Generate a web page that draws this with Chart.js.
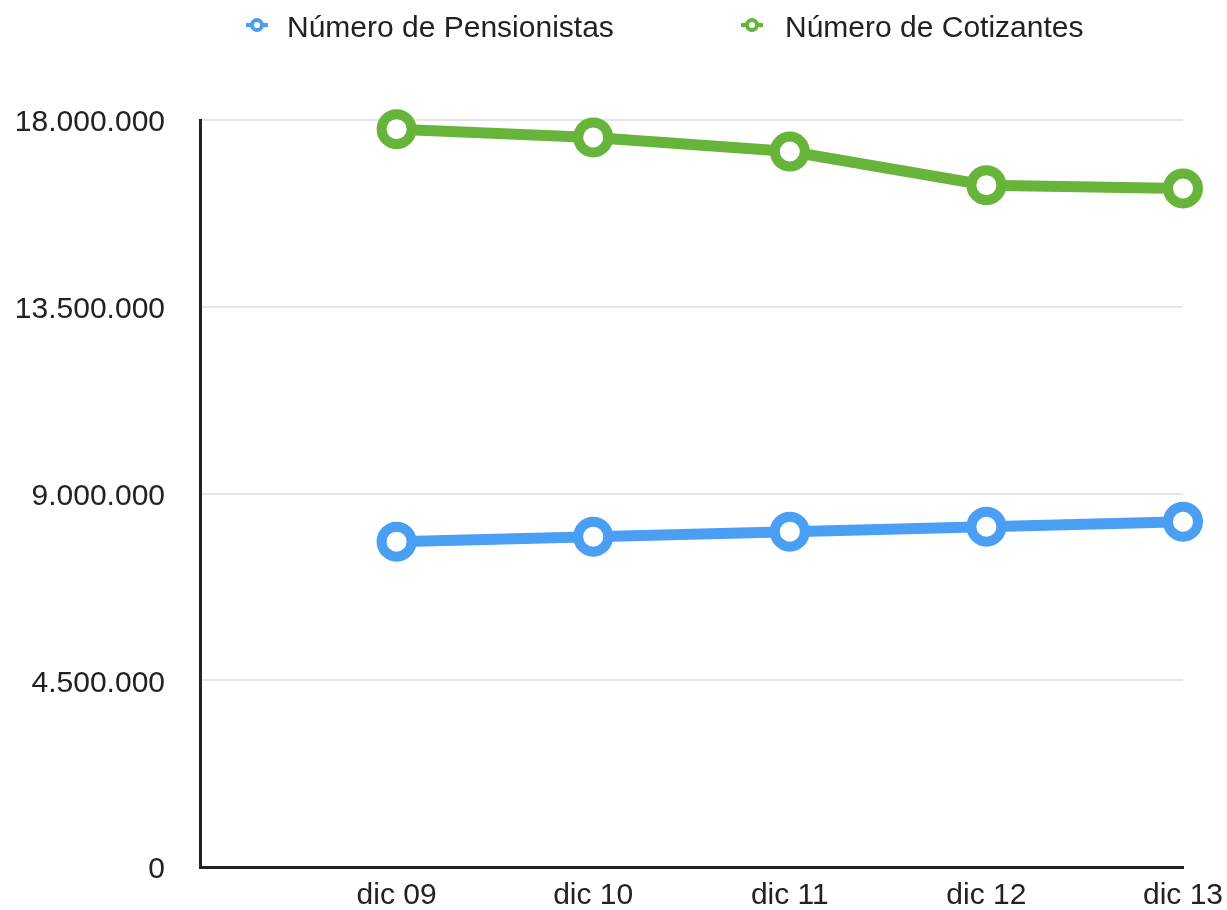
<!DOCTYPE html>
<html lang="es">
<head>
<meta charset="utf-8">
<title>Pensionistas y cotizantes</title>
<script src="https://cdn.jsdelivr.net/npm/chart.js@4.4.1/dist/chart.umd.min.js"></script>
<style>
  html, body { margin: 0; padding: 0; background: #fff; }
  #contenedor { width: 1227px; height: 910px; }
</style>
</head>
<body>
<div id="contenedor"><canvas id="grafico"></canvas></div>
<script>
// datos
const meses = ["", "dic 09", "dic 10", "dic 11", "dic 12", "dic 13"];
const pensionistas = [null, 7840000, 7960000, 8080000, 8200000, 8320000];
const cotizantes = [null, 17780000, 17580000, 17240000, 16430000, 16350000];
const ticksY = [0, 4500000, 9000000, 13500000, 18000000];

const AZUL = "#4a9ff5";
const VERDE = "#67b43b";
const TEXTO = "#222";
const FUENTE = "'Liberation Sans', Arial, sans-serif";

function conPuntos(v) {
  return String(v).replace(/\B(?=(\d{3})+(?!\d))/g, ".");
}

// leyenda dibujada a mano: linea corta con circulo, como en el original
const leyenda = {
  id: "leyenda",
  afterDraw(chart) {
    const ctx = chart.ctx;
    const marcas = [257, 752];
    const textos = [287, 785];
    ctx.save();
    ctx.font = "30px " + FUENTE;
    ctx.textBaseline = "alphabetic";
    chart.data.datasets.forEach((ds, i) => {
      const x = marcas[i];
      const y = 25;
      ctx.strokeStyle = ds.borderColor;
      ctx.lineWidth = 4;
      ctx.beginPath();
      ctx.moveTo(x - 11, y);
      ctx.lineTo(x + 11, y);
      ctx.stroke();
      ctx.beginPath();
      ctx.arc(x, y, 5, 0, Math.PI * 2);
      ctx.fillStyle = "#fff";
      ctx.fill();
      ctx.stroke();
      ctx.fillStyle = TEXTO;
      ctx.fillText(ds.label, textos[i], 36.5);
    });
    ctx.restore();
  }
};

function serie(label, data, color) {
  return {
    label,
    data,
    borderColor: color,
    backgroundColor: color,
    borderWidth: 11,
    tension: 0,
    pointRadius: 15,
    pointHoverRadius: 15,
    pointBorderWidth: 10,
    pointBorderColor: color,
    pointBackgroundColor: "#fff",
    clip: false
  };
}

new Chart(document.getElementById("grafico"), {
  type: "line",
  data: {
    labels: meses,
    datasets: [
      serie("Número de Pensionistas", pensionistas, AZUL),
      serie("Número de Cotizantes", cotizantes, VERDE)
    ]
  },
  options: {
    responsive: true,
    maintainAspectRatio: false,
    animation: false,
    layout: { padding: { top: 120, left: 15, right: 0, bottom: 1 } },
    plugins: {
      legend: { display: false },
      tooltip: { enabled: false }
    },
    scales: {
      x: {
        type: "category",
        offset: false,
        grid: { display: false, drawTicks: false },
        border: { display: true, color: TEXTO, width: 3 },
        ticks: {
          color: TEXTO,
          font: { family: FUENTE, size: 30, lineHeight: 1 },
          padding: 14,
          maxRotation: 0,
          autoSkip: false
        },
        afterFit: scale => {
          scale.height = 42;
          scale.paddingRight = 44;
        }
      },
      y: {
        min: 0,
        max: 18000000,
        afterBuildTicks: scale => {
          scale.ticks = ticksY.map(v => ({ value: v }));
        },
        grid: {
          drawTicks: false,
          lineWidth: 2,
          color: c => (c.tick && c.tick.value === 0 ? "rgba(0,0,0,0)" : "#e6e6e6")
        },
        border: { display: true, color: TEXTO, width: 3 },
        ticks: {
          color: TEXTO,
          font: { family: FUENTE, size: 30, lineHeight: 1 },
          padding: 35,
          labelOffset: 3,
          callback: v => conPuntos(v)
        },
        afterFit: scale => {
          scale.width = 185;
          scale.paddingTop = 0;
          scale.paddingBottom = 0;
        }
      }
    }
  },
  plugins: [leyenda]
});
</script>
</body>
</html>
